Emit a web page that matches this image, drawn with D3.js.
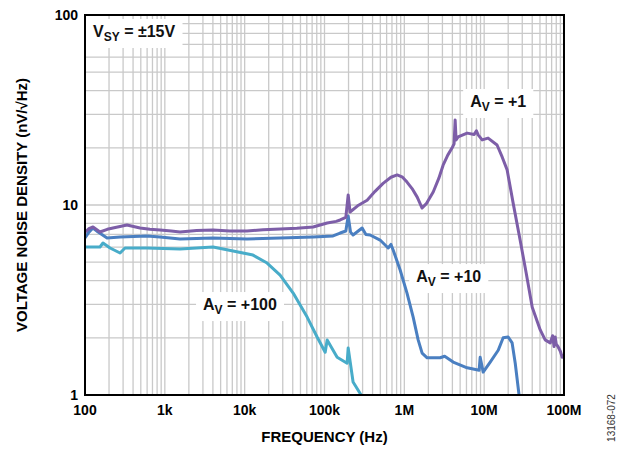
<!DOCTYPE html>
<html>
<head>
<meta charset="utf-8">
<script src="https://cdn.jsdelivr.net/npm/d3@7"></script>
<style>
  body { margin: 0; background: #fff; }
  text { font-family: "Liberation Sans", Arial, sans-serif; font-weight: bold; }
</style>
</head>
<body>
<svg id="chart" width="624" height="449"></svg>
<script>
// frequency (Hz), noise density (nV/rtHz)
var av1 = [
    [100, 7.2], [112, 7.5], [126, 7.66], [154, 7.21], [190, 7.45], [224, 7.57], [336, 7.85],
    [489, 7.57], [650, 7.45], [871, 7.39], [1200, 7.3], [1550, 7.21], [2500, 7.35],
    [4016, 7.39], [6500, 7.3], [10700, 7.3], [17000, 7.4], [27800, 7.48], [45000, 7.55],
    [72000, 7.66], [108000, 8.04], [140000, 8.2], [157000, 8.34], [185000, 8.6],
    [198000, 11.3], [209000, 9.19], [260000, 9.9], [342000, 10.6], [430000, 11.8],
    [542000, 13.0], [680000, 14.0], [813000, 14.4], [950000, 14.0], [1.08e6, 13.2],
    [1.25e6, 12.2], [1.45e6, 11.0], [1.67e6, 9.64], [1.9e6, 10.2], [2.3e6, 11.7],
    [2.7e6, 13.8], [3.06e6, 16.2], [3.5e6, 18.3], [3.97e6, 20.0], [4.2e6, 21.0],
    [4.33e6, 28.0], [4.45e6, 22.0], [4.72e6, 22.8], [6.12e6, 23.9], [7.5e6, 23.5],
    [8.0e6, 24.6], [8.41e6, 23.4], [9.44e6, 22.0], [11.2e6, 22.5], [14.5e6, 20.7],
    [16.8e6, 17.9], [19.4e6, 15.3], [23.1e6, 10.2], [28.2e6, 6.54], [33.6e6, 4.39],
    [40.0e6, 2.9], [50.4e6, 2.2], [58.1e6, 1.95], [67.2e6, 1.88], [72e6, 2.05],
    [75e6, 1.8], [77.6e6, 2.02], [80e6, 1.85], [84.6e6, 1.79], [90e6, 1.7],
    [94.9e6, 1.58], [100e6, 1.62]
];
var av10 = [
    [100, 6.7], [112, 7.2], [126, 7.57], [146, 7.21], [189, 6.7], [275, 6.79], [599, 6.87],
    [871, 6.79], [1550, 6.62], [4016, 6.7], [10700, 6.62], [27800, 6.7], [72000, 6.79],
    [128000, 6.87], [157000, 7.12], [185000, 7.3], [198000, 8.75], [212000, 7.2],
    [228000, 6.95], [296000, 7.57], [330000, 7.0], [373000, 6.95], [497000, 6.54],
    [627000, 5.94], [680000, 6.2], [724000, 5.8], [886000, 4.55], [1.08e6, 3.44],
    [1.29e6, 2.57], [1.49e6, 1.95], [1.67e6, 1.66], [1.93e6, 1.57], [2.81e6, 1.57],
    [3.2e6, 1.6], [4.09e6, 1.49], [6.12e6, 1.39], [8.65e6, 1.35], [8.91e6, 1.58],
    [9.72e6, 1.32], [11.9e6, 1.49], [15.0e6, 1.72], [17.3e6, 2.0], [20.0e6, 2.02],
    [22.4e6, 1.88], [24.5e6, 1.47], [27.5e6, 0.98]
];
var av100 = [
    [100, 6.01], [154, 6.01], [168, 6.31], [206, 5.94], [275, 5.59], [317, 5.94],
    [599, 5.94], [1550, 5.87], [4016, 6.01], [7160, 5.73], [12700, 5.45], [19100, 4.95],
    [27800, 4.28], [40500, 3.44], [60600, 2.57], [80800, 2.02], [102000, 1.68],
    [108000, 1.95], [144000, 1.58], [192000, 1.47], [198000, 1.77], [228000, 1.17],
    [296000, 0.98]
];
var xTicks = [100, 1e3, 1e4, 1e5, 1e6, 1e7, 1e8];
var xTickLabels = ["100", "1k", "10k", "100k", "1M", "10M", "100M"];
var yTicks = [1, 10, 100];
var yTickLabels = ["1", "10", "100"];

var svg = d3.select("#chart"),
    margin = {top: 15, right: 60, bottom: 54, left: 85},
    width = 624 - margin.left - margin.right,
    height = 449 - margin.top - margin.bottom;

var x = d3.scaleLog().domain([100, 1e8]).range([0, width]);
var y = d3.scaleLog().domain([1, 100]).range([height, 0]);

var g = svg.append("g")
    .attr("transform", "translate(" + margin.left + "," + margin.top + ")");

svg.append("defs").append("clipPath").attr("id", "clip")
    .append("rect").attr("width", width).attr("height", height);

// grid: every 1..9 per decade
var xGrid = [], yGrid = [];
for (var e = 2; e < 8; e++) for (var m = 1; m < 10; m++) xGrid.push(m * Math.pow(10, e));
for (var e2 = 0; e2 < 2; e2++) for (var m2 = 1; m2 < 10; m2++) yGrid.push(m2 * Math.pow(10, e2));

g.selectAll(".vgrid").data(xGrid).enter().append("line")
    .attr("x1", function(d) { return x(d); })
    .attr("x2", function(d) { return x(d); })
    .attr("y1", 0).attr("y2", height)
    .attr("stroke", "#c9c9c9").attr("stroke-width", 1.3);
g.selectAll(".hgrid").data(yGrid).enter().append("line")
    .attr("y1", function(d) { return y(d); })
    .attr("y2", function(d) { return y(d); })
    .attr("x1", 0).attr("x2", width)
    .attr("stroke", "#c9c9c9").attr("stroke-width", 1.3);

// annotation labels: [freq, value, main, sub, rest]
var notes = [
    [126, 76.6, "V", "SY", " = \u00b115V"],
    [6.68e6, 32.8, "A", "V", " = +1"],
    [1.41e6, 3.93, "A", "V", " = +10"],
    [3010, 2.8, "A", "V", " = +100"]
];
var noteG = g.selectAll(".note").data(notes).enter().append("g")
    .attr("transform", function(d) { return "translate(" + x(d[0]) + "," + y(d[1]) + ")"; });
noteG.each(function(d) {
    var t = d3.select(this).append("text").attr("font-size", 16).attr("fill", "#111");
    t.append("tspan").text(d[2]);
    t.append("tspan").attr("font-size", 12).attr("dy", 4).text(d[3]);
    t.append("tspan").attr("dy", -4).text(d[4]);
    var bb = t.node().getBBox();
    d3.select(this).insert("rect", "text")
        .attr("x", bb.x - 7).attr("y", bb.y - 4)
        .attr("width", bb.width + 14).attr("height", bb.height + 8)
        .attr("fill", "#fff");
});

var line = d3.line()
    .x(function(d) { return x(d[0]); })
    .y(function(d) { return y(d[1]); });

var series = [
    {data: av100, color: "#48acc9"},
    {data: av10, color: "#4a7fc1"},
    {data: av1, color: "#7d5ea8"}
];
g.append("g").attr("clip-path", "url(#clip)")
    .selectAll("path").data(series).enter().append("path")
    .attr("d", function(d) { return line(d.data); })
    .attr("fill", "none")
    .attr("stroke", function(d) { return d.color; })
    .attr("stroke-width", 3)
    .attr("stroke-linejoin", "round");

// frame
g.append("rect").attr("width", width).attr("height", height)
    .attr("fill", "none").attr("stroke", "#000").attr("stroke-width", 2);

// tick labels
g.selectAll(".xl").data(xTicks).enter().append("text")
    .attr("x", function(d) { return x(d); })
    .attr("y", height + 20)
    .attr("text-anchor", "middle").attr("font-size", 14)
    .text(function(d, i) { return xTickLabels[i]; });
g.selectAll(".yl").data(yTicks).enter().append("text")
    .attr("x", -7)
    .attr("y", function(d) { return y(d) + 5; })
    .attr("text-anchor", "end").attr("font-size", 14)
    .text(function(d, i) { return yTickLabels[i]; });

// axis titles
svg.append("text")
    .attr("x", margin.left + width / 2).attr("y", 442)
    .attr("text-anchor", "middle").attr("font-size", 15)
    .text("FREQUENCY (Hz)");
svg.append("text")
    .attr("transform", "translate(27," + (margin.top + height / 2) + ") rotate(-90)")
    .attr("text-anchor", "middle").attr("font-size", 15)
    .text("VOLTAGE NOISE DENSITY (nV/\u221aHz)");

svg.append("text")
    .attr("transform", "translate(615,418) rotate(-90)")
    .attr("text-anchor", "middle").attr("font-size", 10)
    .style("font-weight", "normal")
    .attr("fill", "#333")
    .text("13168-072");
</script>
</body>
</html>
